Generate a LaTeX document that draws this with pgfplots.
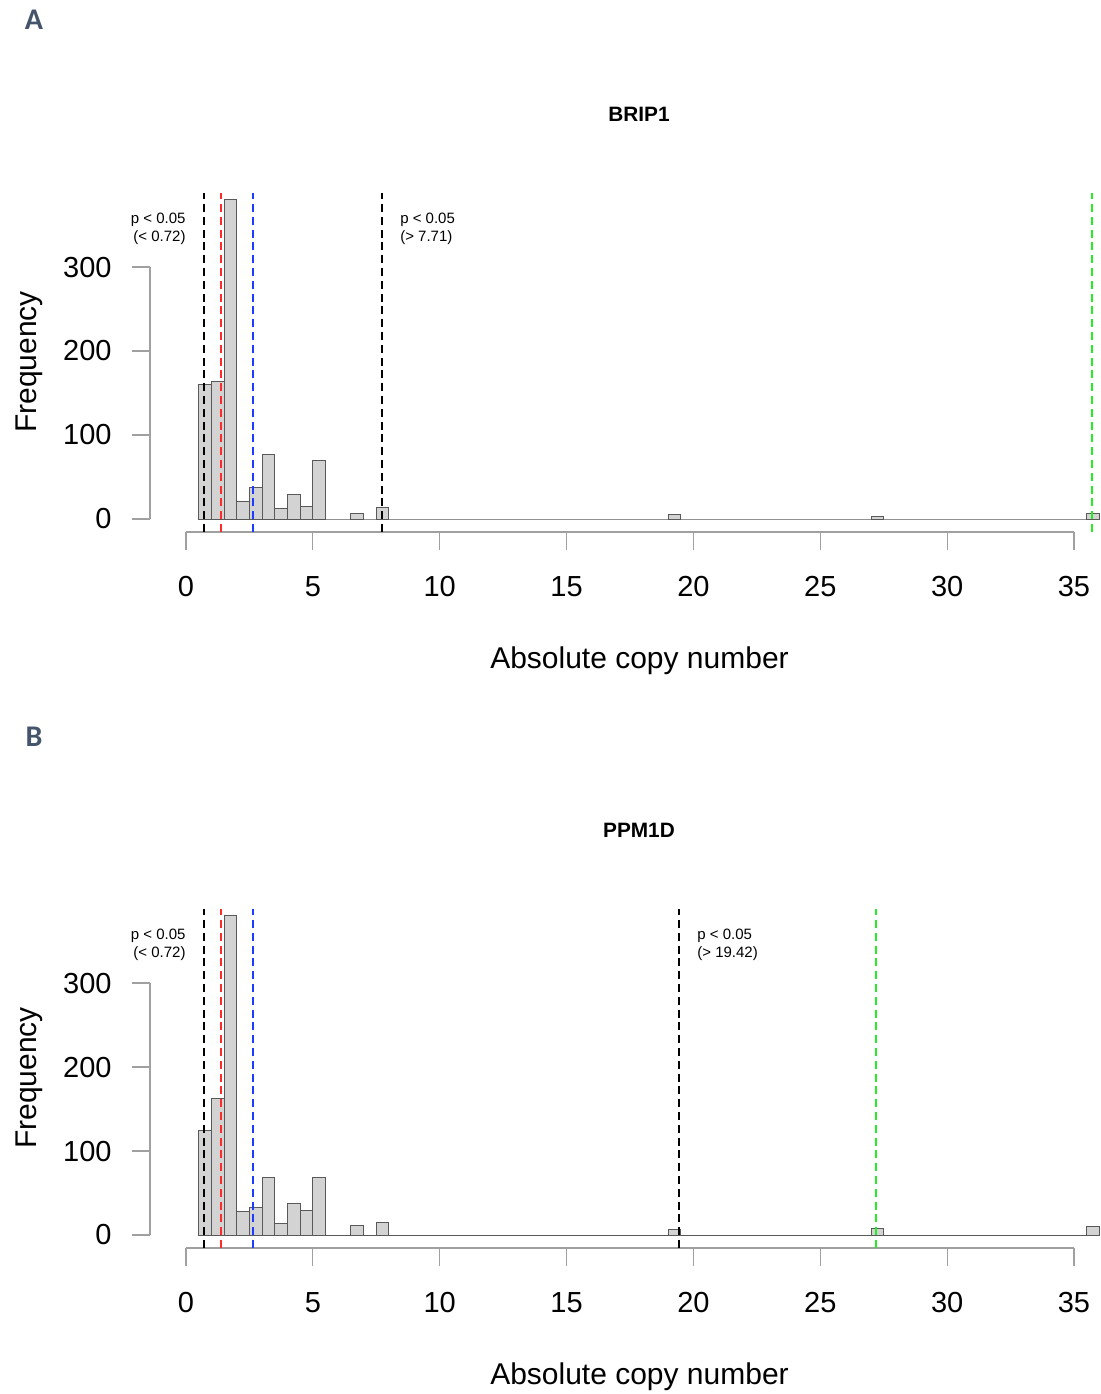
\documentclass[border=0pt]{standalone}
\usepackage{pgfplots}
\pgfplotsset{compat=1.18}
\usepackage{fontspec}
\setmainfont{Liberation Sans}
\newfontfamily\carlito{Carlito}
\definecolor{panellab}{HTML}{44546A}
\definecolor{barfill}{HTML}{D3D3D3}
\definecolor{axgray}{HTML}{A0A0A0}
\definecolor{rred}{HTML}{FF2A2A}
\definecolor{rblue}{HTML}{1E3CFF}
\definecolor{rgreen}{HTML}{22EE22}

\pgfplotstableread{
x y
0.5 160
1.0 164
1.5 380
2.0 21
2.5 37
3.0 77
3.5 12
4.0 29
4.5 15
5.0 70
5.5 0
6.0 0
6.5 6
7.0 0
7.5 14
8.0 0
8.5 0
9.0 0
9.5 0
10.0 0
10.5 0
11.0 0
11.5 0
12.0 0
12.5 0
13.0 0
13.5 0
14.0 0
14.5 0
15.0 0
15.5 0
16.0 0
16.5 0
17.0 0
17.5 0
18.0 0
18.5 0
19.0 5
19.5 0
20.0 0
20.5 0
21.0 0
21.5 0
22.0 0
22.5 0
23.0 0
23.5 0
24.0 0
24.5 0
25.0 0
25.5 0
26.0 0
26.5 0
27.0 3
27.5 0
28.0 0
28.5 0
29.0 0
29.5 0
30.0 0
30.5 0
31.0 0
31.5 0
32.0 0
32.5 0
33.0 0
33.5 0
34.0 0
34.5 0
35.0 0
35.5 6
36.0 0
}\histA

\pgfplotstableread{
x y
0.5 125
1.0 163
1.5 380
2.0 28
2.5 33
3.0 68
3.5 14
4.0 38
4.5 29
5.0 69
5.5 0
6.0 0
6.5 11
7.0 0
7.5 15
8.0 0
8.5 0
9.0 0
9.5 0
10.0 0
10.5 0
11.0 0
11.5 0
12.0 0
12.5 0
13.0 0
13.5 0
14.0 0
14.5 0
15.0 0
15.5 0
16.0 0
16.5 0
17.0 0
17.5 0
18.0 0
18.5 0
19.0 7
19.5 0
20.0 0
20.5 0
21.0 0
21.5 0
22.0 0
22.5 0
23.0 0
23.5 0
24.0 0
24.5 0
25.0 0
25.5 0
26.0 0
26.5 0
27.0 8
27.5 0
28.0 0
28.5 0
29.0 0
29.5 0
30.0 0
30.5 0
31.0 0
31.5 0
32.0 0
32.5 0
33.0 0
33.5 0
34.0 0
34.5 0
35.0 0
35.5 10
36.0 0
}\histB

\pgfplotsset{
  rhist/.style={
    scale only axis,
    width=475.5pt, height=169.75pt,
    anchor=south west,
    xmin=-1.419, xmax=36.065,
    ymin=-15.48, ymax=388.7,
    clip=false,
    axis x line*=bottom, axis y line*=left,
    axis line style={draw=none},
    xtick={0,5,...,35}, ytick={0,100,200,300},
    tick align=outside,
    major tick length=9pt,
    tick style={axgray, line width=0.6pt},
    /pgf/number format/assume math mode=true,
    ticklabel style={font=\fontsize{14.5}{17}\selectfont, text=black},
    xticklabel style={anchor=base, inner sep=0pt, yshift=-23pt},
    yticklabel style={anchor=east, inner sep=0pt, xshift=-10pt},
    vline/.style={line width=1pt, dash pattern=on 4pt off 2.4pt},
  }
}

\begin{document}
\begin{tikzpicture}
\path[use as bounding box] (0,0) rectangle (550.5pt,-697pt);

% ---------- Panel A ----------
\begin{axis}[rhist, at={(75pt,-266pt)}]
  \draw[axgray, line width=0.6pt] (axis cs:0,-15.48) -- (axis cs:35,-15.48);
  \draw[axgray, line width=0.6pt] (axis cs:-1.419,0) -- (axis cs:-1.419,300);
  \addplot[ybar interval, fill=barfill, draw=black!65, line width=0.5pt] table[x=x,y=y] {\histA};
  \addplot[vline, black] coordinates {(0.72,-15.48) (0.72,388.7)};
  \addplot[vline, rred] coordinates {(1.37,-15.48) (1.37,388.7)};
  \addplot[vline, rblue] coordinates {(2.63,-15.48) (2.63,388.7)};
  \addplot[vline, black] coordinates {(7.71,-15.48) (7.71,388.7)};
  \addplot[vline, rgreen] coordinates {(35.72,-15.48) (35.72,388.7)};
  \node[anchor=east, align=right, inner sep=0pt, font=\fontsize{7.5}{9}\selectfont] at (axis cs:0,345.2) {p < 0.05\\(< 0.72)};
  \node[anchor=west, align=left, inner sep=0pt, font=\fontsize{7.5}{9}\selectfont] at (axis cs:8.43,345.2) {p < 0.05\\(> 7.71)};
\end{axis}
\node[anchor=center, font=\carlito\bfseries\fontsize{15}{18}\selectfont, text=panellab] at (17pt,-10pt) {A};
\node[anchor=center, font=\bfseries\fontsize{10.4}{12}\selectfont] at (319.5pt,-57pt) {BRIP1};
\node[anchor=base, rotate=90, font=\fontsize{15}{18}\selectfont] at (18pt,-181pt) {Frequency};
\node[anchor=base, font=\fontsize{15}{18}\selectfont] at (319.75pt,-334pt) {Absolute copy number};

% ---------- Panel B ----------
\begin{axis}[rhist, at={(75pt,-624pt)}]
  \draw[axgray, line width=0.6pt] (axis cs:0,-15.48) -- (axis cs:35,-15.48);
  \draw[axgray, line width=0.6pt] (axis cs:-1.419,0) -- (axis cs:-1.419,300);
  \addplot[ybar interval, fill=barfill, draw=black!65, line width=0.5pt] table[x=x,y=y] {\histB};
  \addplot[vline, black] coordinates {(0.72,-15.48) (0.72,388.7)};
  \addplot[vline, rred] coordinates {(1.37,-15.48) (1.37,388.7)};
  \addplot[vline, rblue] coordinates {(2.63,-15.48) (2.63,388.7)};
  \addplot[vline, black] coordinates {(19.42,-15.48) (19.42,388.7)};
  \addplot[vline, rgreen] coordinates {(27.2,-15.48) (27.2,388.7)};
  \node[anchor=east, align=right, inner sep=0pt, font=\fontsize{7.5}{9}\selectfont] at (axis cs:0,345.2) {p < 0.05\\(< 0.72)};
  \node[anchor=west, align=left, inner sep=0pt, font=\fontsize{7.5}{9}\selectfont] at (axis cs:20.14,345.2) {p < 0.05\\(> 19.42)};
\end{axis}
\node[anchor=center, font=\carlito\bfseries\fontsize{15}{18}\selectfont, text=panellab] at (17pt,-368.5pt) {B};
\node[anchor=center, font=\bfseries\fontsize{10.4}{12}\selectfont] at (319.5pt,-415pt) {PPM1D};
\node[anchor=base, rotate=90, font=\fontsize{15}{18}\selectfont] at (18pt,-539pt) {Frequency};
\node[anchor=base, font=\fontsize{15}{18}\selectfont] at (319.75pt,-692pt) {Absolute copy number};
\end{tikzpicture}
\end{document}
